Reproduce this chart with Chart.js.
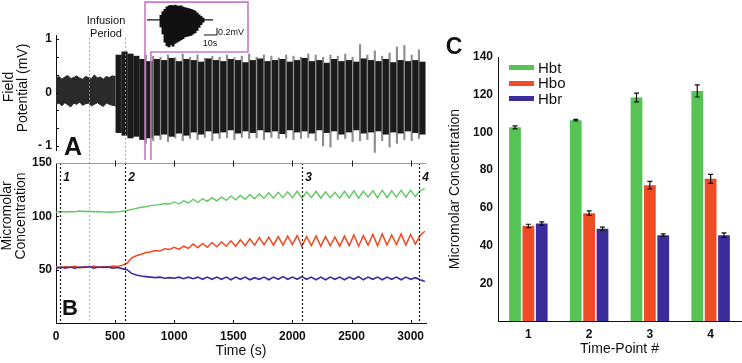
<!DOCTYPE html>
<html><head><meta charset="utf-8">
<script src="https://cdn.jsdelivr.net/npm/chart.js@4.4.0/dist/chart.umd.min.js"></script>
<style>
html,body{margin:0;padding:0;background:#fff;}
body{width:742px;height:363px;position:relative;overflow:hidden;font-family:"Liberation Sans",Arial,sans-serif;color:#111;}
canvas{position:absolute;}
.t{position:absolute;white-space:nowrap;line-height:1;transform:translate(-50%,-50%);}
.r{transform:translate(-50%,-50%) rotate(-90deg);}
.lg{position:absolute;font-size:15px;line-height:1;}
.sw{position:absolute;width:25px;height:5px;}
</style></head><body>
<canvas id="cA" width="440" height="165" style="left:0;top:0"></canvas>
<canvas id="cB" width="440" height="213" style="left:0;top:150px"></canvas>
<canvas id="cI" width="100" height="47" style="left:146px;top:3px"></canvas>
<canvas id="cC" width="302" height="363" style="left:440px;top:0"></canvas>

<div class="t" style="left:106px;top:20px;font-size:11px">Infusion</div>
<div class="t" style="left:106px;top:33px;font-size:11px">Period</div>
<div class="t" style="left:231px;top:32px;font-size:9px">0.2mV</div>
<div class="t" style="left:210px;top:43px;font-size:9px">10s</div>
<div class="t" style="left:73px;top:146px;font-size:25px;font-weight:bold">A</div>
<div class="t" style="left:70px;top:308px;font-size:22px;font-weight:bold">B</div>
<div class="t" style="left:454px;top:46px;font-size:23px;font-weight:bold">C</div>
<div class="t r" style="left:8px;top:87px;font-size:14px">Field</div>
<div class="t r" style="left:22px;top:88px;font-size:14px">Potential (mV)</div>
<div class="t r" style="left:6px;top:216px;font-size:14px">Micromolar</div>
<div class="t r" style="left:20px;top:216px;font-size:14px">Concentration</div>
<div id="legend"></div>

<script>
// ---------- Panel B : concentration traces ----------
const timeS = [0,40,80,120,160,200,240,280,320,360,400,440,480,520,560,600,640,680,720,760,800,840,880,920,960,1000,1040,1080,1120,1160,1200,1240,1280,1320,1360,1400,1440,1480,1520,1560,1600,1640,1680,1720,1760,1800,1840,1880,1920,1960,2000,2040,2080,2120,2160,2200,2240,2280,2320,2360,2400,2440,2480,2520,2560,2600,2640,2680,2720,2760,2800,2840,2880,2920,2960,3000,3040,3080,3120];
const hbtTrace = [104,104.5,104,104.5,104.2,105,104.5,104.8,104.3,104.5,104.2,103.8,104,104.2,104.8,
  105.5,106.5,107.5,108.5,109,110,110.5,111,112,111.5,
  113.5,111.5,114.5,112.5,116,113,116.5,114,117.5,114.5,
  118,115,119,115.5,119.5,116,120.5,116.5,121,117,
  122,117,122.5,117.5,123,117.5,123.5,117,123,117.5,
  123.5,117,123,117.5,122.5,117,123.5,117.5,124,117,
  123.5,118,124,117.5,124.5,117.5,124,118,124.5,118,
  124.5,118.5,124,126];
const hboTrace = [53,51.5,53,52,53.5,51.5,53,52,53.5,52,53,52.5,53.5,53,54,
  56,61,63,64.5,66,66.5,68,67.5,69.5,69,
  71,69,72,70,74,70.5,74.5,71,75.5,71.5,
  76,72,77,72,78,72.5,79,73,80,73.5,
  80.5,73,81,73,81.5,73.5,82,72,81,72.5,
  81.5,72,81,72.5,80.5,72,81.5,72.5,82.5,72,
  82,73,83,72.5,83.5,73,82.5,73.5,83.5,73,
  83,74,82,86];
const hbrTrace = [51,52.5,51.5,52.5,51.5,52.5,52,53,51.5,52.5,52,52.5,51.5,52,51,
  50,46.5,45,44,43.5,43,42.5,43,42,42.5,
  42,43,41.5,43,41.5,43,41,43,41,43,
  41,43,40.5,43,41,43,40.5,42.5,41,43,
  40.5,43,41,43.5,41,43,41,43.5,41,43,
  40.5,43,40.5,43,41,43,40.5,43,41,43.5,
  40.5,43,41,43,40.5,43,41,43,40.5,43,
  41,42.5,40.5,39];
const timeTicks = [0,500,1000,1500,2000,2500,3000];
const concTicks = [0,50,100,150];
const markerTimes = [35,580,2085,3075];
const markerLabels = ['1','2','3','4'];
const infusionTimes = [275,580];

// ---------- Panel A : field potential (envelopes) ----------
const fpTicks = [-1,0,1];
const fpMinorTicks = [-0.667,-0.333,0.333,0.667];
const fpBaseT  = [0,25,50,75,100,125,150,175,200,225,250,275,300,325,350,375,400,425,450,475,505];
const fpBaseHi = [0.27,0.3,0.25,0.29,0.32,0.26,0.28,0.31,0.27,0.25,0.3,0.28,0.26,0.33,0.27,0.29,0.25,0.3,0.28,0.31,0.3];
const fpBaseLo = [-0.22,-0.2,-0.25,-0.19,-0.23,-0.27,-0.2,-0.22,-0.18,-0.24,-0.21,-0.2,-0.25,-0.22,-0.19,-0.23,-0.26,-0.2,-0.22,-0.24,-0.25];
const fpBurstT  = [530,580,630,680,730,
  790,853,915,978,1040,1103,1165,1228,1290,1353,1415,1478,1540,1603,1665,1728,1790,1853,1915,1978,
  2040,2103,2165,2228,2290,2353,2415,2478,2540,2603,2665,2728,2790,2853,2915,2978,3040,3100];
const fpBurstHi = [0.7,0.76,0.72,0.68,0.62,
  0.58,0.62,0.6,0.64,0.58, 0.62,0.6,0.57,0.63,0.6, 0.58,0.62,0.6,0.56,0.6, 0.63,0.58,0.6,0.62,0.57,
  0.6,0.64,0.58,0.6,0.55, 0.62,0.58,0.6,0.57,0.63, 0.6,0.58,0.62,0.56,0.6, 0.58,0.6,0.57];
const fpBurstLo = [-0.75,-0.8,-0.85,-0.82,-0.88,
  -0.85,-0.8,-0.78,-0.82,-0.76, -0.8,-0.74,-0.78,-0.72,-0.76, -0.74,-0.7,-0.76,-0.72,-0.75, -0.7,-0.74,-0.72,-0.77,-0.7,
  -0.74,-0.72,-0.76,-0.7,-0.75, -0.72,-0.78,-0.74,-0.7,-0.76, -0.74,-0.72,-0.78,-0.74,-0.76, -0.72,-0.75,-0.78];
const fpSpikeT  = [760,822,884,947,1009,1072,1134,1197,1259,1322,1384,1447,1509,1572,1634,1697,1759,1822,1884,1947,
  2009,2072,2134,2197,2259,2322,2384,2447,2509,2572,2634,2697,2759,2822,2884,2947,3009,3070];
const fpSpikeHi = [0.7,0.68,0.66,0.7,0.65, 0.72,0.66,0.7,0.64,0.68, 0.66,0.7,0.65,0.68,0.72, 0.66,0.7,0.68,0.65,0.7,
  0.68,0.66,0.72,0.7,0.66, 0.7,0.68,0.72,0.66,0.9, 0.7,0.78,0.68,0.74,0.85, 0.88,0.7,0.8];
const fpSpikeLo = [-0.95,-0.9,-0.88,-0.92,-0.85, -0.9,-0.86,-0.88,-0.84,-0.9, -0.86,-0.85,-0.88,-0.84,-0.86, -0.85,-0.88,-0.84,-0.86,-0.85,
  -0.88,-0.86,-0.84,-0.9,-1.0, -1.02,-0.88,-0.86,-0.92,-0.9, -0.88,-1.12,-0.9,-1.02,-0.95, -0.88,-0.9,-0.86];

// ---------- inset : single burst ----------
const insetT  = [15,17,19,21,23,25,27,29,31,33,35,37,39,41,43,45,47,49,51,53,55,57];
const insetHi = [0.2,0.35,0.45,0.55,0.6,0.62,0.6,0.63,0.6,0.58,0.6,0.55,0.52,0.5,0.48,0.45,0.42,0.38,0.3,0.22,0.15,0.08];
const insetLo = [-0.3,-0.6,-0.95,-1.1,-1.15,-1.05,-1.12,-1.0,-0.95,-0.9,-0.85,-0.8,-0.72,-0.7,-0.68,-0.66,-0.6,-0.55,-0.45,-0.32,-0.2,-0.1];
const insetBaseT = [1,67];
const insetBaseV = [0,0];
const scaleBarT = [58,71,71];
const scaleBarV = [-0.64,-0.64,-0.34];

// ---------- Panel C : time-point means ----------
const timePoints = ['1','2','3','4'];
const seriesNames = ['Hbt','Hbo','Hbr'];
const hbtMean = [102.7,106.5,118.5,122];
const hbtErr  = [0.8,0.4,2.3,3.2];
const hboMean = [50.4,57.2,72,75.4];
const hboErr  = [0.9,1.2,2,2.4];
const hbrMean = [51.7,48.9,45.5,45.5];
const hbrErr  = [0.9,0.9,0.7,1.2];
const barTicks = [0,20,40,60,80,100,120,140];

const GREEN='#55c455', RED='#ef4b25', BLUE='#3b2c9c';
const GREEN_L='#62c862', RED_L='#ef4a22', BLUE_L='#3a2ca3';
const TICKFONT={size:12,weight:'bold'};

Chart.defaults.font.family='"Liberation Sans", Arial, sans-serif';
Chart.defaults.font.size=12;
Chart.defaults.color='#111';
Chart.defaults.animation=false;

const vlines = {
  id:'vlines',
  afterDatasetsDraw(chart,args,o){
    if(!o.lines) return;
    const ctx=chart.ctx, xs=chart.scales.x, ca=chart.chartArea;
    ctx.save();
    for(const l of o.lines){
      const x=Math.round(xs.getPixelForValue(l.t))+0.5;
      ctx.strokeStyle=l.color; ctx.lineWidth=l.width||1; ctx.setLineDash(l.dash||[1.5,2]);
      ctx.beginPath(); ctx.moveTo(x, l.y0!==undefined?l.y0:ca.top); ctx.lineTo(x, l.y1!==undefined?l.y1:ca.bottom); ctx.stroke();
      if(l.label){
        ctx.setLineDash([]); ctx.fillStyle='#111';
        ctx.font='italic bold 12px "Liberation Sans", Arial, sans-serif';
        ctx.textAlign='center'; ctx.textBaseline='middle';
        ctx.fillText(l.label, x+6, ca.top+15);
      }
    }
    ctx.restore();
  }
};

const inTicks = {
  id:'inTicks',
  afterDraw(chart,args,o){
    const ctx=chart.ctx, ca=chart.chartArea;
    ctx.save(); ctx.lineWidth=1; ctx.strokeStyle='#111';
    const len=o.len||3;
    if(o.leftVals){ const ys=chart.scales.y;
      for(const v of o.leftVals){ const y=Math.round(ys.getPixelForValue(v))+0.5;
        ctx.beginPath(); ctx.moveTo(ca.left,y); ctx.lineTo(ca.left+len,y); ctx.stroke(); } }
    if(o.bottom){ const xs=chart.scales.x;
      for(const t of xs.ticks){ const x=Math.round(xs.getPixelForValue(t.value))+0.5;
        ctx.beginPath(); ctx.moveTo(x,ca.bottom); ctx.lineTo(x,ca.bottom-len); ctx.stroke(); } }
    if(o.top){ const xs=chart.scales.x;
      ctx.strokeStyle='#9a9a9a';
      const y=Math.round(ca.top)+0.5;
      ctx.beginPath(); ctx.moveTo(ca.left,y); ctx.lineTo(ca.right,y); ctx.stroke();
      ctx.strokeStyle='#222';
      for(const t of xs.ticks){ if(t.value===0) continue; const x=Math.round(xs.getPixelForValue(t.value))+0.5;
        ctx.beginPath(); ctx.moveTo(x,y-3); ctx.lineTo(x,y+3); ctx.stroke(); } }
    ctx.restore();
  }
};

const zoomBox = {
  id:'zoomBox',
  afterDraw(chart,args,o){
    if(!o.t0) return;
    const ctx=chart.ctx, xs=chart.scales.x, ys=chart.scales.y;
    const xl=xs.getPixelForValue(o.t0), xi=xs.getPixelForValue(o.t1), xr=xs.getPixelForValue(o.t2);
    const yT=ys.getPixelForValue(o.vTop), yM=ys.getPixelForValue(o.vMid), yB=ys.getPixelForValue(o.vBot);
    ctx.save(); ctx.strokeStyle='#c77bc3'; ctx.lineWidth=1.6;
    ctx.beginPath(); ctx.moveTo(xl,yB); ctx.lineTo(xl,yT); ctx.lineTo(xr,yT); ctx.lineTo(xr,yM); ctx.lineTo(xi,yM); ctx.lineTo(xi,yB); ctx.stroke();
    ctx.restore();
  }
};

const errBars = {
  id:'errBars',
  afterDatasetsDraw(chart){
    const ctx=chart.ctx, ys=chart.scales.y;
    ctx.save(); ctx.strokeStyle='#111'; ctx.lineWidth=1.2;
    chart.data.datasets.forEach((ds,i)=>{
      if(!ds.err) return;
      chart.getDatasetMeta(i).data.forEach((bar,j)=>{
        const v=ds.data[j], e=ds.err[j], x=bar.x;
        const y1=ys.getPixelForValue(v+e), y2=ys.getPixelForValue(v-e);
        ctx.beginPath();
        ctx.moveTo(x,y1); ctx.lineTo(x,y2);
        ctx.moveTo(x-2.5,y1); ctx.lineTo(x+2.5,y1);
        ctx.moveTo(x-2.5,y2); ctx.lineTo(x+2.5,y2);
        ctx.stroke();
      });
    });
    ctx.restore();
  }
};

const pts=(xs,ys)=>xs.map((x,i)=>({x:x,y:ys[i]}));
const rng=(xs,lo,hi)=>xs.map((x,i)=>({x:x,y:[lo[i],hi[i]]}));
const fixW=w=>function(s){ s.width=w; };
const fixH=h=>function(s){ s.height=h; };
const setTicks=vals=>function(s){ s.ticks=vals.map(v=>({value:v})); };

// ---------- Chart A ----------
new Chart(document.getElementById('cA'),{
  type:'bar',
  data:{datasets:[
    {type:'bar',label:'bursts',data:rng(fpBurstT,fpBurstLo,fpBurstHi),backgroundColor:'#1b1b1b',barThickness:5.5,grouped:false,order:1},
    {type:'bar',label:'spikes',data:rng(fpSpikeT,fpSpikeLo,fpSpikeHi),backgroundColor:'#8e8e8e',barThickness:1.5,grouped:false,order:2,clip:false},
    {type:'line',label:'baseHi',data:pts(fpBaseT,fpBaseHi),borderColor:'#2a2a2a',backgroundColor:'#2a2a2a',borderWidth:1,pointRadius:0,fill:'+1',order:3},
    {type:'line',label:'baseLo',data:pts(fpBaseT,fpBaseLo),borderColor:'#2a2a2a',borderWidth:1,pointRadius:0,fill:false,order:4}
  ]},
  options:{
    responsive:false, animation:false,
    layout:{padding:{left:0,right:14,top:35,bottom:15}},
    plugins:{legend:{display:false},tooltip:{enabled:false},
      vlines:{lines:infusionTimes.map(t=>({t:t,color:'#9a9a9a',dash:[1.5,2.5],y0:38,y1:165}))},
      inTicks:{leftVals:fpTicks.concat(fpMinorTicks),len:3},
      zoomBox:{t0:753,t1:803,t2:1624,vTop:1.69,vMid:0.757,vBot:-1.26}},
    scales:{
      x:{type:'linear',display:false,offset:false,min:0,max:3130},
      y:{type:'linear',min:-1.075,max:1.075,afterFit:fixW(56),afterBuildTicks:setTicks(fpTicks),
         grid:{display:false,drawTicks:false},border:{display:true,color:'#111',width:1},
         ticks:{padding:4,color:'#111',font:TICKFONT,callback:v=>v===-1?'- 1':String(v)}}
    }
  },
  plugins:[vlines,inTicks,zoomBox]
});

// ---------- Inset ----------
new Chart(document.getElementById('cI'),{
  type:'bar',
  data:{datasets:[
    {type:'bar',data:rng(insetT,insetLo,insetHi),backgroundColor:'#111',barThickness:2.3,grouped:false,order:1},
    {type:'line',data:pts(insetBaseT,insetBaseV),borderColor:'#111',borderWidth:1.2,pointRadius:0,order:2},
    {type:'line',data:pts(scaleBarT,scaleBarV),borderColor:'#111',borderWidth:1,pointRadius:0,order:0}
  ]},
  options:{responsive:false,animation:false,layout:{padding:0},
    plugins:{legend:{display:false},tooltip:{enabled:false}},
    scales:{x:{type:'linear',display:false,offset:false,min:0,max:100},y:{display:false,min:-1.28,max:0.72}}}
});

// ---------- Chart B ----------
new Chart(document.getElementById('cB'),{
  type:'line',
  data:{datasets:[
    {label:'Hbt',data:pts(timeS,hbtTrace),borderColor:GREEN_L,borderWidth:1.4,pointRadius:0,tension:0},
    {label:'Hbr',data:pts(timeS,hbrTrace),borderColor:BLUE_L,borderWidth:1.6,pointRadius:0,tension:0},
    {label:'Hbo',data:pts(timeS,hboTrace),borderColor:RED_L,borderWidth:1.5,pointRadius:0,tension:0}
  ]},
  options:{
    responsive:false, animation:false,
    layout:{padding:{left:0,right:14,top:13,bottom:0}},
    plugins:{legend:{display:false},tooltip:{enabled:false},
      vlines:{lines:[{t:infusionTimes[0],color:'#a8a8a8',dash:[1.5,2.5]}].concat(
        markerTimes.map((t,i)=>({t:t,color:'#222',dash:[2,2],width:1.2,label:markerLabels[i]})))},
      inTicks:{leftVals:[50,100],bottom:true,top:true,len:3}},
    scales:{
      x:{type:'linear',offset:false,min:0,max:3130,afterFit:fixH(40),afterBuildTicks:setTicks(timeTicks),
         grid:{display:false,drawTicks:false},border:{display:true,color:'#111',width:1},
         ticks:{padding:6,color:'#111',font:TICKFONT,callback:v=>String(v)},
         title:{display:true,text:'Time (s)',font:{size:14},color:'#111',padding:{top:0,bottom:3}}},
      y:{type:'linear',min:0,max:150,afterFit:fixW(56),afterBuildTicks:setTicks(concTicks),
         grid:{display:false,drawTicks:false},border:{display:true,color:'#111',width:1},
         ticks:{padding:4,color:'#111',font:TICKFONT,callback:v=>v===0?'':String(v)}}
    }
  },
  plugins:[vlines,inTicks]
});

// ---------- Chart C ----------
const chartC = new Chart(document.getElementById('cC'),{
  type:'bar',
  data:{labels:timePoints,datasets:[
    {label:seriesNames[0],data:hbtMean,err:hbtErr,backgroundColor:GREEN},
    {label:seriesNames[1],data:hboMean,err:hboErr,backgroundColor:RED},
    {label:seriesNames[2],data:hbrMean,err:hbrErr,backgroundColor:BLUE}
  ]},
  options:{
    responsive:false, animation:false,
    categoryPercentage:0.66, barPercentage:0.88,
    layout:{padding:{left:0,right:1,top:57,bottom:0}},
    plugins:{legend:{display:false},tooltip:{enabled:false}},
    scales:{
      x:{afterFit:fixH(42),grid:{display:false,drawTicks:false},border:{display:true,color:'#111',width:1},
         ticks:{padding:6,color:'#111',font:TICKFONT},
         title:{display:true,text:'Time-Point #',font:{size:14},color:'#111',padding:{top:0,bottom:5}}},
      y:{min:0,max:140,afterFit:fixW(58),afterBuildTicks:setTicks(barTicks),
         grid:{display:false,drawTicks:false},border:{display:true,color:'#111',width:1},
         ticks:{padding:5,color:'#111',font:TICKFONT,callback:v=>v===0?'':String(v)},
         title:{display:true,text:'Micromolar Concentration',font:{size:14},color:'#111',padding:{top:7,bottom:0}}}
    }
  },
  plugins:[errBars]
});

// legend for C, built from the chart's datasets
const lg=document.getElementById('legend');
chartC.data.datasets.forEach((ds,i)=>{
  const y=67.5+i*15.7;
  const sw=document.createElement('div'); sw.className='sw';
  sw.style.left='509px'; sw.style.top=(y-2.5)+'px'; sw.style.background=ds.backgroundColor;
  const tx=document.createElement('div'); tx.className='lg';
  tx.style.left='538px'; tx.style.top=(y-8)+'px'; tx.textContent=ds.label;
  lg.appendChild(sw); lg.appendChild(tx);
});
</script>
</body></html>
